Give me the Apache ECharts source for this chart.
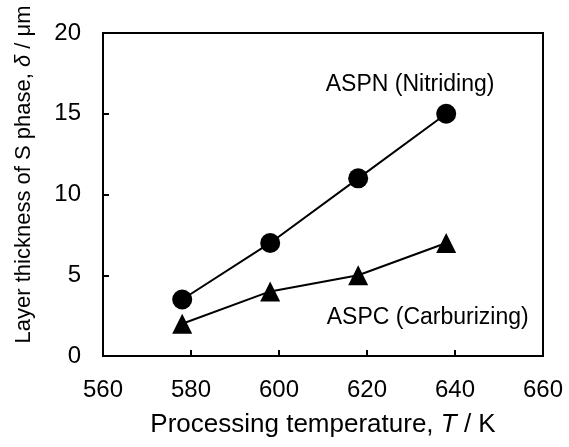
<!DOCTYPE html>
<html><head><meta charset="utf-8">
<script src="https://cdn.jsdelivr.net/npm/echarts@6/dist/echarts.min.js"></script>
<style>html,body{margin:0;padding:0;background:#fff}#c{width:569px;height:447px}</style>
</head><body><div id="c"></div>
<script>
var temps = [578, 598, 618, 638];
var aspn = [3.5, 7, 11, 15];
var aspc = [2, 4, 5, 7];
var xTicks = [560, 580, 600, 620, 640, 660];
var yTicks = [0, 5, 10, 15, 20];
var labelASPN = 'ASPN (Nitriding)';
var labelASPC = 'ASPC (Carburizing)';
var posASPN = [629.8, 16.8];
var posASPC = [633.8, 2.36];

var F = '"Liberation Sans", Arial, sans-serif';
var chart = echarts.init(document.getElementById('c'), null, {renderer: 'canvas'});
function pairs(xs, ys){ return xs.map(function(x,i){ return [x, ys[i]]; }); }
chart.setOption({
  animation: false,
  backgroundColor: '#fff',
  grid: {left: 103, right: 26, top: 33, bottom: 91, show: true, borderColor: '#000', borderWidth: 2,
         containLabel: false, outerBoundsMode: 'none'},
  xAxis: {
    type: 'value', min: xTicks[0], max: xTicks[xTicks.length-1], interval: 20,
    axisLine: {lineStyle: {color: '#000', width: 2}},
    axisTick: {inside: true, length: 6, lineStyle: {color: '#000', width: 2}},
    axisLabel: {color: '#000', fontFamily: F, fontSize: 24, margin: 22},
    splitLine: {show: false},
    name: 'Processing temperature, {i|T} / K',
    nameLocation: 'middle', nameGap: 56,
    nameTextStyle: {color: '#000', fontFamily: F, fontSize: 26,
      rich: {i: {fontStyle: 'italic', fontFamily: F, fontSize: 26, color: '#000'}}}
  },
  yAxis: {
    type: 'value', min: yTicks[0], max: yTicks[yTicks.length-1], interval: 5,
    axisLine: {lineStyle: {color: '#000', width: 2}},
    axisTick: {inside: true, length: 6, lineStyle: {color: '#000', width: 2}},
    axisLabel: {color: '#000', fontFamily: F, fontSize: 24, margin: 22},
    splitLine: {show: false},
    name: 'Layer thickness of S phase, {i|δ} / μm',
    nameLocation: 'middle', nameGap: 68,
    nameTextStyle: {color: '#000', fontFamily: F, fontSize: 22, padding: [0, 0, 0, 40],
      rich: {i: {fontStyle: 'italic', fontFamily: F, fontSize: 22, color: '#000'}}}
  },
  series: [
    {type: 'line', data: pairs(temps, aspn), symbol: 'circle', symbolSize: 20,
     itemStyle: {color: '#000'}, lineStyle: {color: '#000', width: 2}},
    {type: 'line', data: pairs(temps, aspc), symbol: 'triangle', symbolSize: 20,
     itemStyle: {color: '#000'}, lineStyle: {color: '#000', width: 2}}
  ]
});
var pA = chart.convertToPixel({gridIndex: 0}, posASPN);
var pC = chart.convertToPixel({gridIndex: 0}, posASPC);
chart.setOption({
  graphic: [
    {type: 'text', x: pA[0], y: pA[1], style: {text: labelASPN, fill: '#000', font: '23px ' + F, textAlign: 'center', textVerticalAlign: 'middle'}},
    {type: 'text', x: pC[0], y: pC[1], style: {text: labelASPC, fill: '#000', font: '23px ' + F, textAlign: 'center', textVerticalAlign: 'middle'}}
  ]
});
</script></body></html>
